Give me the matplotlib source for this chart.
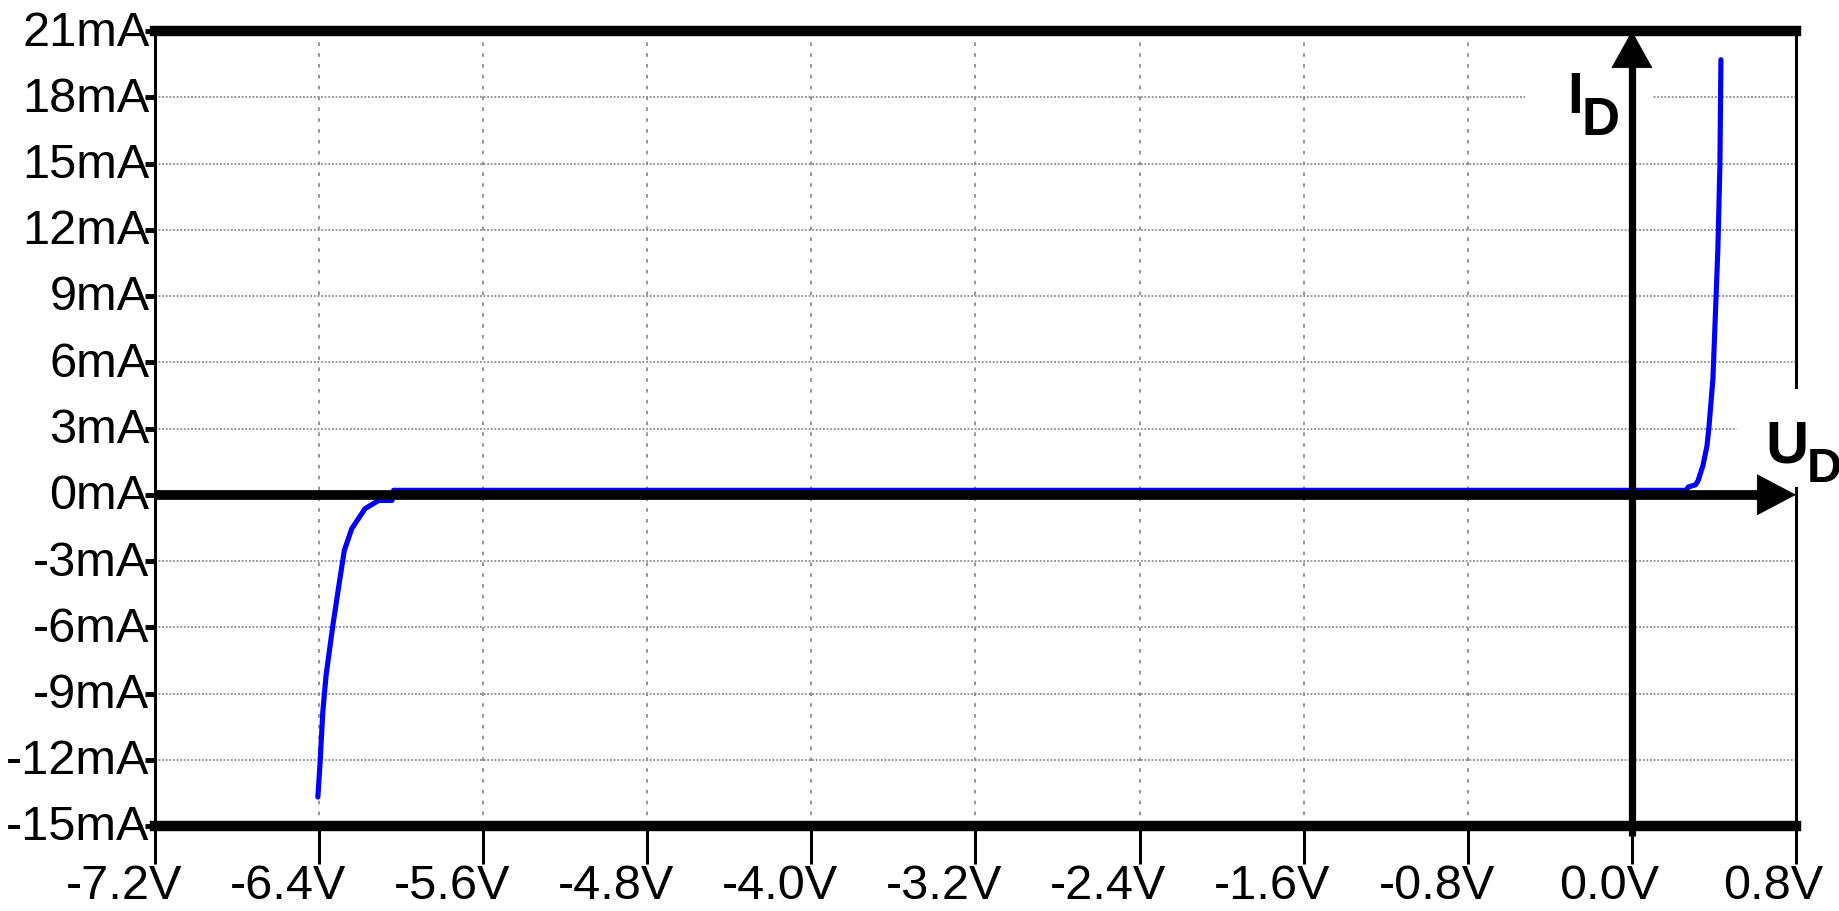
import matplotlib
matplotlib.use("Agg")
import matplotlib.pyplot as plt
from matplotlib.patches import Rectangle
from matplotlib.transforms import ScaledTranslation

plt.rcParams['font.family'] = ['Liberation Sans', 'DejaVu Sans']

# diode curve (V, mA)
volts = [-6.406, -6.395, -6.382, -6.366, -6.333, -6.301, -6.277, -6.241, -6.176,
         -6.110, -6.045, -6.037, -4.0, -2.0, 0.0, 0.263, 0.275, 0.31, 0.322,
         0.346, 0.366, 0.376, 0.395, 0.419, 0.429, 0.434]
milliamps = [-13.69, -12.1, -9.84, -8.18, -5.92, -3.95, -2.52, -1.54, -0.63,
             -0.26, -0.26, 0.2, 0.2, 0.2, 0.2, 0.2, 0.35, 0.45, 0.62,
             1.31, 2.2, 3.1, 5.25, 11.1, 14.9, 19.7]

x_ticks = [-7.2, -6.4, -5.6, -4.8, -4.0, -3.2, -2.4, -1.6, -0.8, 0.0, 0.8]
x_labels = ['-7.2V', '-6.4V', '-5.6V', '-4.8V', '-4.0V', '-3.2V', '-2.4V',
            '-1.6V', '-0.8V', '0.0V', '0.8V']
y_ticks = [21, 18, 15, 12, 9, 6, 3, 0, -3, -6, -9, -12, -15]
y_labels = ['21mA', '18mA', '15mA', '12mA', '9mA', '6mA', '3mA', '0mA',
            '-3mA', '-6mA', '-9mA', '-12mA', '-15mA']

W, H = 1840, 912
fig = plt.figure(figsize=(W / 100, H / 100), dpi=100)
ax = fig.add_axes([155 / W, 85 / H, (1796 - 155) / W, (880 - 85) / H])

ax.plot(volts, milliamps, color='#0000ff', lw=3.7, zorder=3,
        solid_joinstyle='round', solid_capstyle='round')

ax.set_xlim(-7.2, 0.8)
ax.set_ylim(-15, 21)
ax.set_xticks(x_ticks, x_labels, ha='right')
ax.set_yticks(y_ticks, y_labels)

ax.set_axisbelow(True)
ax.xaxis.grid(True, color='#8c8c8c', ls=(0, (2, 4)), lw=1.3)
ax.yaxis.grid(True, color='#8c8c8c', ls=(0, (1, 1)), lw=1.3)

for side in ['top', 'bottom']:
    ax.spines[side].set_linewidth(7.5)
for side in ['left', 'right']:
    ax.spines[side].set_linewidth(2.2)

ax.tick_params(axis='x', direction='out', length=27, width=2.2, pad=0,
               labelsize=35, colors='black')
ax.tick_params(axis='y', direction='out', length=7, width=3.5, pad=-3,
               labelsize=35, colors='black')

for lbl in ax.get_xticklabels():
    lbl.set_transform(lbl.get_transform() + ScaledTranslation(0.27, 0, fig.dpi_scale_trans))
for lbl in ax.get_yticklabels():
    lbl.set_transform(lbl.get_transform() + ScaledTranslation(0, 0.04, fig.dpi_scale_trans))

# axis arrows through the origin
ax.axhline(0, xmax=0.985, color='black', lw=7, zorder=5, solid_capstyle='butt')
ax.axvline(0, ymin=-0.0126, ymax=0.97, color='black', lw=5.2, zorder=5,
           solid_capstyle='butt', clip_on=False)
ax.annotate('', xy=(1, 0), xycoords=('axes fraction', 'data'),
            xytext=(0.95, 0), textcoords=('axes fraction', 'data'),
            arrowprops=dict(arrowstyle='-|>,head_length=0.38,head_width=0.2',
                            color='black', lw=0.5, mutation_scale=72,
                            shrinkA=0, shrinkB=0),
            zorder=6, annotation_clip=False)
ax.annotate('', xy=(0, 1), xycoords=('data', 'axes fraction'),
            xytext=(0, 0.95), textcoords=('data', 'axes fraction'),
            arrowprops=dict(arrowstyle='-|>,head_length=0.36,head_width=0.2',
                            color='black', lw=0.5, mutation_scale=72,
                            shrinkA=0, shrinkB=0),
            zorder=6, annotation_clip=False)

# white patches behind the axis names
for x0, y0, x1, y1 in [(1525, 45, 1653, 150), (1737, 390, 1845, 488)]:
    ax.add_patch(Rectangle((x0 / W, 1 - y1 / H), (x1 - x0) / W, (y1 - y0) / H,
                           transform=fig.transFigure, facecolor='white',
                           edgecolor='none', zorder=4, clip_on=False))

ax.text(1567 / W, 1 - 113 / H, 'I', transform=fig.transFigure, fontsize=41,
        fontweight='bold', ha='left', va='baseline', zorder=4.5)
ax.text(1582 / W, 1 - 135 / H, 'D', transform=fig.transFigure, fontsize=38,
        fontweight='bold', ha='left', va='baseline', zorder=4.5)
ax.text(1765 / W, 1 - 463 / H, 'U', transform=fig.transFigure, fontsize=43,
        fontweight='bold', ha='left', va='baseline', zorder=4.5)
ax.text(1807 / W, 1 - 482 / H, 'D', transform=fig.transFigure, fontsize=35,
        fontweight='bold', ha='left', va='baseline', zorder=4.5)

fig.savefig('out.png', dpi=100, facecolor='white')
